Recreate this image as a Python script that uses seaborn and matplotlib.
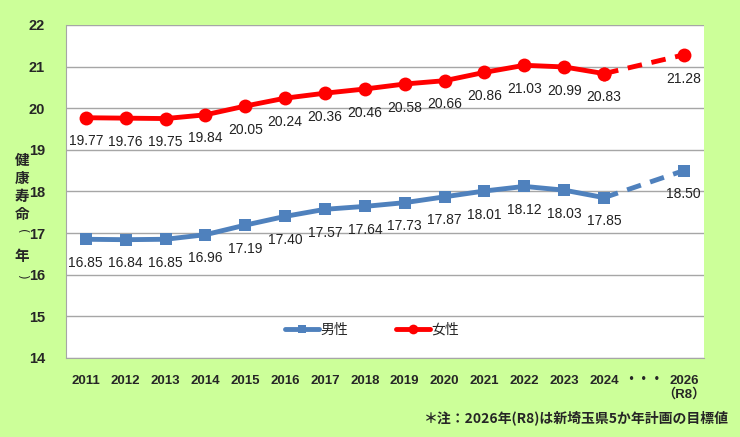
import numpy as np
import pandas as pd
import matplotlib.pyplot as plt
import seaborn as sns

years = ['2011', '2012', '2013', '2014', '2015', '2016', '2017', '2018', '2019',
         '2020', '2021', '2022', '2023', '2024', '・・・', '2026\n（R8）']
female = [19.77, 19.76, 19.75, 19.84, 20.05, 20.24, 20.36, 20.46, 20.58,
          20.66, 20.86, 21.03, 20.99, 20.83, np.nan, 21.28]
male = [16.85, 16.84, 16.85, 16.96, 17.19, 17.40, 17.57, 17.64, 17.73,
        17.87, 18.01, 18.12, 18.03, 17.85, np.nan, 18.50]
ylabel_chars = ['健', '康', '寿', '命', '(', '年', ')']

sns.set_style('white')
plt.rcParams['font.family'] = ['Liberation Sans', 'Noto Sans CJK JP', 'DejaVu Sans']

bg = '#CCFF99'
red = '#FF0000'
blue = '#4F81BD'

df = pd.DataFrame({'x': np.arange(len(years)), 'female': female, 'male': male})
solid = df.iloc[:14]
dashed = df.iloc[[13, 15]]

fig = plt.figure(figsize=(7.4, 4.37), dpi=100, facecolor=bg)
ax = fig.add_axes([0.089, 0.181, 0.862, 0.762])
ax.set_facecolor('white')

sns.lineplot(data=solid, x='x', y='male', ax=ax, color=blue, lw=3.5,
             marker='s', markersize=9, markeredgewidth=0, label='男性')
sns.lineplot(data=solid, x='x', y='female', ax=ax, color=red, lw=3.5,
             marker='o', markersize=10, markeredgewidth=0, label='女性')
sns.lineplot(data=dashed, x='x', y='male', ax=ax, color=blue, lw=3.5,
             ls=(0, (3, 2)), marker='s', markersize=9, markeredgewidth=0, legend=False)
sns.lineplot(data=dashed, x='x', y='female', ax=ax, color=red, lw=3.5,
             ls=(0, (3, 2)), marker='o', markersize=10, markeredgewidth=0, legend=False)

for i in range(len(years)):
    for vals in (female, male):
        v = vals[i]
        if np.isnan(v):
            continue
        ax.annotate(f'{v:.2f}', (i, v), xytext=(0, -12), textcoords='offset points',
                    ha='center', va='top', fontsize=10, color='#222222')

ax.set_xlim(-0.5, len(years) - 0.5)
ax.set_ylim(14, 22)
ax.set_yticks(range(14, 23))
ax.yaxis.grid(True, color='#A6A6A6', lw=1)
ax.set_axisbelow(True)
ax.set_xticks(range(len(years)))
ax.set_xticklabels(years, fontweight='bold', fontsize=9.5, linespacing=1.1)
ax.set_xticks(np.arange(-0.5, len(years)), minor=True)
ax.tick_params(axis='x', which='major', length=0, pad=12)
ax.tick_params(axis='x', which='minor', length=5, color='#A6A6A6', width=1)
ax.tick_params(axis='y', length=5, color='#A6A6A6', width=1, pad=10)
for lab in ax.get_yticklabels():
    lab.set_fontweight('bold')
    lab.set_fontsize(10.5)
ax.set_xlabel('')
ax.set_ylabel('')
for s in ['top', 'right']:
    ax.spines[s].set_visible(False)
for s in ['left', 'bottom']:
    ax.spines[s].set_color('#A6A6A6')

ax.legend(loc='center', bbox_to_anchor=(0.48, 0.085), ncol=2, frameon=False,
          fontsize=10, handlelength=2.4, columnspacing=3.5, handletextpad=0.1,
          markerscale=0.7)

# stacked vertical y label (pixel rows)
ylabel_rows = [160, 178, 196, 214, 231, 256, 276]
for ch, row in zip(ylabel_chars, ylabel_rows):
    if ch in '()':
        fig.text(22 / 740, 1 - row / 437, ch, ha='center', va='center',
                 fontsize=8.5, rotation=-90, family='DejaVu Sans')
    else:
        fig.text(22 / 740, 1 - row / 437, ch, ha='center', va='center',
                 fontsize=10.5, fontweight='bold',
                 family=['Noto Sans CJK JP', 'DejaVu Sans'])

fig.text(0.985, 0.045, '＊注：2026年(R8)は新埼玉県5か年計画の目標値', ha='right', va='center',
         fontsize=10, fontweight='bold', family=['Noto Sans CJK JP', 'DejaVu Sans'])

fig.savefig('out.png', dpi=100, facecolor=bg)
